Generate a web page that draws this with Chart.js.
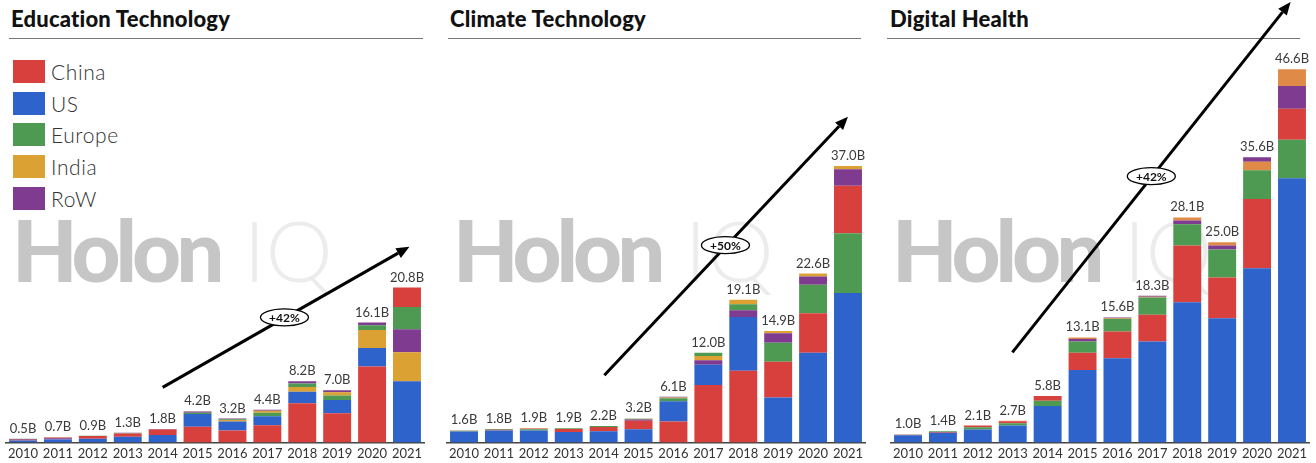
<!DOCTYPE html>
<html>
<head>
<meta charset="utf-8">
<script src="https://cdn.jsdelivr.net/npm/chart.js@4.4.0/dist/chart.umd.min.js"></script>
<style>
  body { margin:0; background:#fff; font-family: Lato, 'Noto Sans', sans-serif; }
  #page { position:relative; width:1316px; height:463px; overflow:hidden; }
  .mark { position:absolute; top:207px; font-size:85px; line-height:85px; font-weight:900; color:#c6c6c6; letter-spacing:-5px; white-space:nowrap; }
  .mark span { color:#ececec; font-weight:300; margin-left:24px; letter-spacing:0; }
  .title { position:absolute; top:7px; font-size:22px; line-height:24px; font-weight:900; color:#111; white-space:nowrap; letter-spacing:0.2px; }
  .rule { position:absolute; top:38px; height:0; border-top:1.5px solid #777; }
  .box { position:absolute; top:0; width:422px; height:466px; }
  #legend { position:absolute; left:13px; top:60px; }
  .item { height:31.7px; display:flex; align-items:flex-start; }
  .item i { display:inline-block; width:32px; height:23px; margin-right:6px; }
  .item b { font-weight:300; font-size:21px; line-height:23px; color:#333; letter-spacing:0.6px; }
</style>
</head>
<body>
<div id="page">
  <div class="mark" style="left:12px">Holon<span>IQ</span></div>
  <div class="mark" style="left:453px">Holon<span>IQ</span></div>
  <div class="mark" style="left:892px">Holon<span>IQ</span></div>

  <div class="title" style="left:11px">Education Technology</div>
  <div class="title" style="left:450px">Climate Technology</div>
  <div class="title" style="left:890px">Digital Health</div>
  <div class="rule" style="left:9px; width:414px"></div>
  <div class="rule" style="left:448px; width:413px"></div>
  <div class="rule" style="left:887px; width:413px"></div>

  <div id="legend"></div>

  <div class="box" style="left:3.5px"><canvas id="eduChart"></canvas></div>
  <div class="box" style="left:444.5px"><canvas id="climateChart"></canvas></div>
  <div class="box" style="left:888.5px"><canvas id="healthChart"></canvas></div>
</div>
<script>
var years = ['2010','2011','2012','2013','2014','2015','2016','2017','2018','2019','2020','2021'];
var regions = ['China', 'US', 'Europe', 'India', 'RoW'];
var regionColors = ['#d8403d', '#2f63cc', '#4f9a52', '#dba233', '#7e3b8f'];
var healthColors = ['#d8403d', '#2f63cc', '#4f9a52', '#e08a48', '#7e3b8f'];

// Education Technology, $B
var eduChina  = [0.1, 0.1, 0.35, 0.45, 0.75, 2.1, 1.6, 2.3, 5.25, 3.9, 10.2, 2.6];
var eduUS     = [0.25, 0.4, 0.5, 0.75, 1.0, 1.7, 1.2, 1.2, 1.55, 1.8, 2.5, 8.2];
var eduEurope = [0.05, 0.05, 0.05, 0.05, 0, 0.2, 0.1, 0.5, 0.45, 0.6, 0.65, 3.0];
var eduIndia  = [0, 0, 0, 0, 0, 0.05, 0.2, 0.25, 0.65, 0.45, 2.4, 3.9];
var eduRoW    = [0.1, 0.15, 0, 0.05, 0.05, 0.15, 0.1, 0.15, 0.3, 0.25, 0.35, 3.1];

// Climate Technology, $B
var climateChina  = [0.05, 0.1, 0.1, 0.4, 0.55, 1.15, 2.8, 7.7, 9.6, 4.8, 5.3, 6.35];
var climateUS     = [1.45, 1.6, 1.6, 1.4, 1.5, 1.75, 2.7, 2.7, 7.2, 6.0, 12.0, 20.0];
var climateEurope = [0.1, 0.1, 0.15, 0.1, 0.15, 0.1, 0.4, 0.45, 0.8, 2.55, 3.8, 8.0];
var climateIndia  = [0, 0, 0.05, 0, 0, 0.05, 0.1, 0.55, 0.6, 0.3, 0.4, 0.45];
var climateRoW    = [0, 0, 0, 0, 0, 0.15, 0.1, 0.6, 0.9, 1.25, 1.1, 2.2];

// Digital Health, $B
var healthChina  = [0.05, 0.1, 0.2, 0.25, 0.6, 2.15, 3.35, 3.35, 7.1, 5.1, 8.65, 3.85];
var healthUS     = [0.9, 1.2, 1.6, 2.1, 4.55, 9.05, 10.5, 12.6, 17.5, 15.5, 21.75, 33.0];
var healthEurope = [0.05, 0.1, 0.3, 0.3, 0.65, 1.4, 1.6, 2.15, 2.65, 3.5, 3.6, 4.8];
var healthIndia  = [0, 0, 0, 0.05, 0, 0.2, 0.1, 0.1, 0.4, 0.4, 1.05, 2.1];
var healthRoW    = [0, 0, 0, 0, 0, 0.3, 0.05, 0.1, 0.45, 0.5, 0.55, 2.85];

// growth arrows: [fromIndex, fromValue, toIndex, toValue], badge: [index, value, text]
var eduArrow = [4.0, 7.4, 11.07, 26.3];
var eduBadge = [7.49, 16.8, '+42%'];
var climateArrow = [4.02, 9.0, 11.0, 43.6];
var climateBadge = [7.49, 26.4, '+50%'];
var healthArrow = [2.99, 11.25, 10.96, 55.0];
var healthBadge = [6.97, 33.25, '+42%'];

Chart.defaults.font.family = 'Lato, "Noto Sans", sans-serif';
Chart.defaults.color = '#333';

// legend
var legend = document.getElementById('legend');
for (var r = 0; r < regions.length; r++) {
    var row = document.createElement('div');
    row.className = 'item';
    row.innerHTML = '<i style="background:' + regionColors[r] + '"></i><b>' + regions[r] + '</b>';
    legend.appendChild(row);
}

// stack each year's regions largest first, like the original
function rankedDatasets(series, colors) {
    var sets = [];
    for (var k = 0; k < series.length; k++) {
        sets.push({ data: [], backgroundColor: [], borderWidth: 0, barPercentage: 0.8, categoryPercentage: 1 });
    }
    for (var i = 0; i < years.length; i++) {
        var order = series.map(function(s, j) { return j; });
        order.sort(function(a, b) { return series[b][i] - series[a][i]; });
        order.forEach(function(j, k) {
            sets[k].data.push(series[j][i]);
            sets[k].backgroundColor.push(colors[j]);
        });
    }
    return sets;
}

var extras = {
    id: 'extras',
    afterDatasetsDraw: function(chart) {
        var o = chart.options.plugins.extras;
        var ctx = chart.ctx, xs = chart.scales.x, ys = chart.scales.y;
        ctx.save();
        ctx.font = '13px Lato, "Noto Sans", sans-serif';
        ctx.fillStyle = '#3a3a3a';
        ctx.textAlign = 'center';
        ctx.textBaseline = 'alphabetic';
        for (var i = 0; i < years.length; i++) {
            var total = 0;
            o.series.forEach(function(s) { total += s[i]; });
            total = Math.round(total * 10) / 10;
            ctx.fillText(total.toFixed(1) + 'B', xs.getPixelForValue(i), ys.getPixelForValue(total) - 6);
        }
        // arrow
        var x1 = xs.getPixelForValue(o.arrow[0]), y1 = ys.getPixelForValue(o.arrow[1]);
        var x2 = xs.getPixelForValue(o.arrow[2]), y2 = ys.getPixelForValue(o.arrow[3]);
        var ang = Math.atan2(y2 - y1, x2 - x1);
        var hl = 13, hw = 5.5;
        var bx = x2 - hl * Math.cos(ang), by = y2 - hl * Math.sin(ang);
        ctx.strokeStyle = '#000';
        ctx.lineWidth = 3;
        ctx.beginPath();
        ctx.moveTo(x1, y1);
        ctx.lineTo(bx, by);
        ctx.stroke();
        ctx.fillStyle = '#000';
        ctx.beginPath();
        ctx.moveTo(x2, y2);
        ctx.lineTo(bx + hw * Math.sin(ang), by - hw * Math.cos(ang));
        ctx.lineTo(bx - hw * Math.sin(ang), by + hw * Math.cos(ang));
        ctx.closePath();
        ctx.fill();
        // badge
        var cx = xs.getPixelForValue(o.badge[0]), cy = ys.getPixelForValue(o.badge[1]);
        ctx.beginPath();
        ctx.ellipse(cx, cy, 24, 8.5, 0, 0, Math.PI * 2);
        ctx.fillStyle = '#fff';
        ctx.fill();
        ctx.lineWidth = 1.3;
        ctx.stroke();
        ctx.fillStyle = '#111';
        ctx.font = 'bold 12px Lato, "Noto Sans", sans-serif';
        ctx.textBaseline = 'middle';
        ctx.fillText(o.badge[2], cx, cy + 0.5);
        ctx.restore();
    }
};

function makeChart(id, series, colors, yMax, arrow, badge) {
    return new Chart(document.getElementById(id).getContext('2d'), {
        type: 'bar',
        data: { labels: years, datasets: rankedDatasets(series, colors) },
        options: {
            responsive: true,
            maintainAspectRatio: false,
            animation: false,
            layout: { padding: { top: 42, bottom: 0, left: 0, right: 0 } },
            plugins: {
                legend: { display: false },
                tooltip: { enabled: false },
                extras: { series: series, arrow: arrow, badge: badge }
            },
            scales: {
                x: {
                    stacked: true,
                    grid: { display: false, drawTicks: false },
                    border: { display: true, color: '#444', width: 1.5 },
                    ticks: { padding: 4, color: '#333', font: { size: 13 }, maxRotation: 0, autoSkip: false }
                },
                y: { stacked: true, display: false, min: 0, max: yMax }
            }
        },
        plugins: [extras]
    });
}

window.onload = function() {
    makeChart('eduChart', [eduChina, eduUS, eduEurope, eduIndia, eduRoW], regionColors, 53.8, eduArrow, eduBadge);
    makeChart('climateChart', [climateChina, climateUS, climateEurope, climateIndia, climateRoW], regionColors, 53.6, climateArrow, climateBadge);
    makeChart('healthChart', [healthChina, healthUS, healthEurope, healthIndia, healthRoW], healthColors, 50.0, healthArrow, healthBadge);
};
</script>
</body>
</html>
